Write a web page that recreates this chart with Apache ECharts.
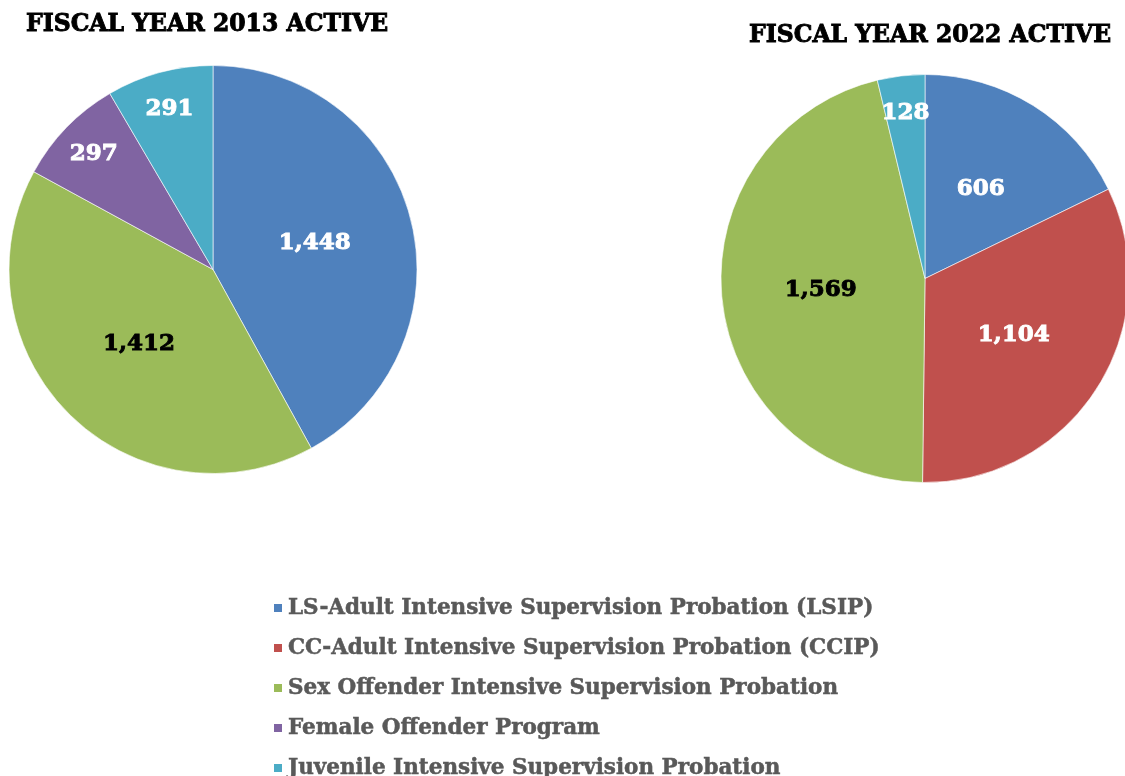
<!DOCTYPE html>
<html>
<head>
<meta charset="utf-8">
<script src="https://cdn.jsdelivr.net/npm/echarts@6/dist/echarts.min.js"></script>
<style>
  html, body { margin: 0; padding: 0; background: #fff; }
  #chart { width: 1125px; height: 776px; }
</style>
</head>
<body>
<div id="chart"></div>
<script>
const categories = [
  'LS-Adult Intensive Supervision Probation (LSIP)',
  'CC-Adult Intensive Supervision Probation (CCIP)',
  'Sex Offender Intensive Supervision Probation',
  'Female Offender Program',
  'Juvenile Intensive Supervision Probation'
]
const fy2013 = [1448, 0, 1412, 297, 291]
const fy2022 = [606, 1104, 1569, 0, 128]
const titles = ['FISCAL YEAR 2013 ACTIVE', 'FISCAL YEAR 2022 ACTIVE']

const colors = ['#4F81BD', '#C0504D', '#9BBB59', '#8064A2', '#4BACC6']
const labelColors = ['#fff', '#fff', '#000', '#fff', '#fff']
const font = 'DejaVu Serif'
const R = 204

const chart = echarts.init(document.getElementById('chart'))

// slices under 10% get their label pushed towards the rim, like the original
function pieData(values, small) {
  const total = values.reduce((a, b) => a + b, 0)
  return categories
    .map((name, i) => ({ name, value: values[i], i }))
    .filter(d => d.value > 0)
    .map(d => {
      const isSmall = d.value / total < 0.1
      return {
        name: d.name,
        value: d.value,
        itemStyle: { color: small ? 'rgba(0,0,0,0)' : colors[d.i] },
        label: {
          show: small ? isSmall : !isSmall,
          color: labelColors[d.i],
          textBorderColor: labelColors[d.i],
          textBorderWidth: 0.9
        }
      }
    })
}

const labelStyle = {
  position: 'inside',
  fontFamily: font,
  fontWeight: 'bold',
  fontSize: 23,
  formatter: p => p.value.toLocaleString('en-US')
}

function pies(values, center) {
  return [
    {
      type: 'pie',
      center,
      radius: [0, R],
      startAngle: 90,
      silent: true,
      itemStyle: { borderColor: '#fff', borderWidth: 0.6 },
      label: labelStyle,
      labelLine: { show: false },
      emphasis: { disabled: true },
      data: pieData(values, false)
    },
    {
      // invisible ring that only carries the labels of the thin slices
      type: 'pie',
      center,
      radius: [R * 0.6, R],
      startAngle: 90,
      silent: true,
      label: labelStyle,
      labelLine: { show: false },
      emphasis: { disabled: true },
      data: pieData(values, true)
    }
  ]
}

const titleStyle = {
  fontFamily: font,
  fontWeight: 'bold',
  fontSize: 23.5,
  color: '#000',
  textBorderColor: '#000',
  textBorderWidth: 0.9
}

const option = {
  animation: false,
  backgroundColor: '#fff',
  title: [
    { text: titles[0], left: 21, top: 8, textStyle: titleStyle },
    { text: titles[1], right: 8, top: 19, textStyle: titleStyle }
  ],
  legend: {
    orient: 'vertical',
    left: 267,
    top: 591,
    height: 300,
    icon: 'rect',
    itemWidth: 10,
    itemHeight: 10,
    itemGap: 16,
    selectedMode: false,
    textStyle: {
      fontFamily: font,
      fontWeight: 'bold',
      fontSize: 21.5,
      lineHeight: 24,
      color: '#595959',
      textBorderColor: '#595959',
      textBorderWidth: 0.5
    },
    data: categories.map((name, i) => ({ name, itemStyle: { color: colors[i] } }))
  },
  series: [
    ...pies(fy2013, [213, 269.5]),
    ...pies(fy2022, [925, 278.5])
  ]
}

chart.setOption(option)
window.addEventListener('resize', () => chart.resize())
</script>
</body>
</html>
